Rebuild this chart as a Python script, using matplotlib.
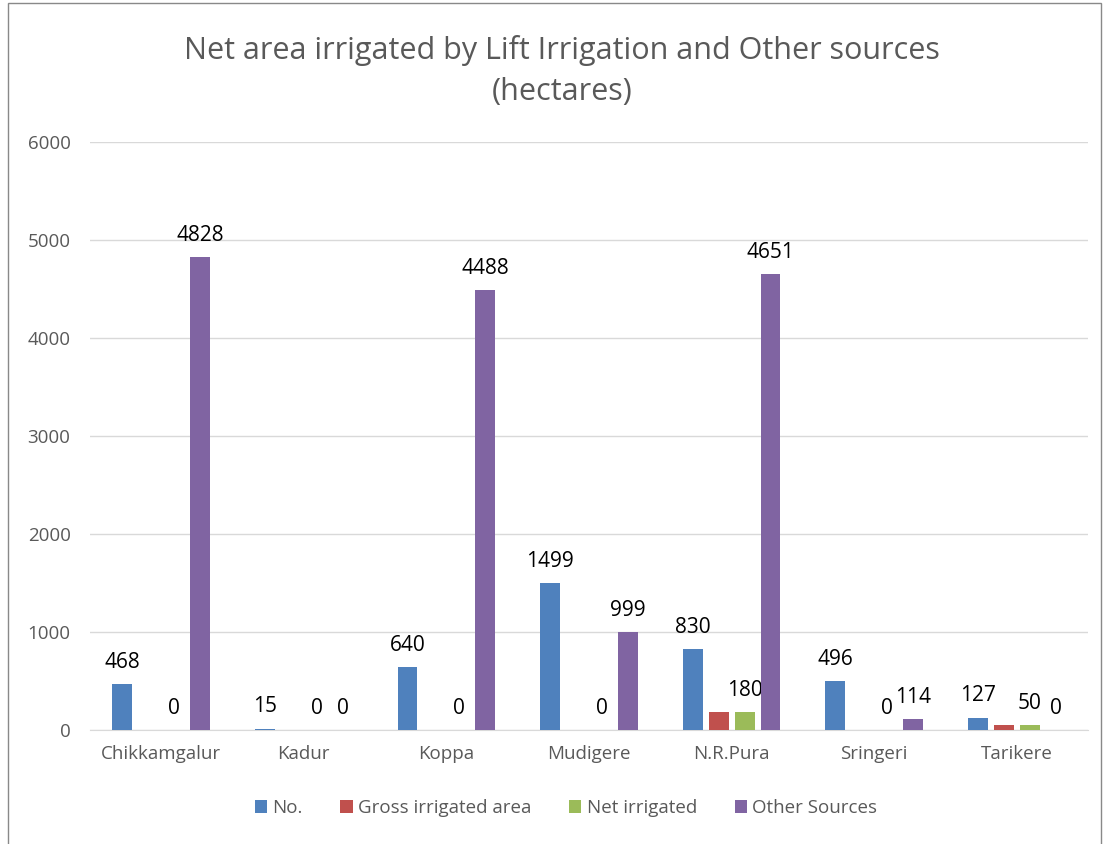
import matplotlib
matplotlib.use("Agg")
import matplotlib.pyplot as plt
import numpy as np
from matplotlib.patches import Rectangle

categories = ["Chikkamgalur", "Kadur", "Koppa", "Mudigere", "N.R.Pura", "Sringeri", "Tarikere"]
series_names = ["No.", "Gross irrigated area", "Net irrigated", "Other Sources"]
no_vals = [468, 15, 640, 1499, 830, 496, 127]
gross_vals = [0, 0, 0, 0, 180, 0, 50]
net_vals = [0, 0, 0, 0, 180, 0, 50]
other_vals = [4828, 0, 4488, 999, 4651, 114, 0]
show_labels = [True, False, True, True]
colors = ["#4F81BD", "#C0504D", "#9BBB59", "#8064A2"]
yticks = [0, 1000, 2000, 3000, 4000, 5000, 6000]

plt.rcParams['font.family'] = ['Open Sans', 'DejaVu Sans']

W, H = 1109, 844
fig = plt.figure(figsize=(W/100, H/100), dpi=100)
fig.patches.append(Rectangle((8/W, -0.1), (1101-8)/W, 1.1 - 3/H, transform=fig.transFigure,
                             fill=False, edgecolor="#898989", linewidth=1.0))

ax = fig.add_axes([90/W, 1-730/H, (1088-90)/W, (730-142)/H])
x = np.arange(len(categories))
step = 0.182
bw = 0.14
all_vals = [no_vals, gross_vals, net_vals, other_vals]
for i, (vals, name, col, lab) in enumerate(zip(all_vals, series_names, colors, show_labels)):
    pos = x + (i - 1.5) * step
    ax.bar(pos, vals, width=bw, color=col, label=name, zorder=3)
    if lab:
        for p, v in zip(pos, vals):
            ax.annotate(f"{v}", (p, v), xytext=(0, 8), textcoords="offset points",
                        ha="center", va="bottom", fontsize=15, color="black")

ax.set_xlim(-0.5, len(categories) - 0.5)
ax.set_ylim(0, 6000)
ax.set_yticks(yticks)
ax.set_xticks(x)
ax.set_xticklabels(categories)
ax.grid(axis="y", color="#D9D9D9", linewidth=1.0, zorder=0)
for s in ["top", "right", "left"]:
    ax.spines[s].set_visible(False)
ax.spines["bottom"].set_color("#D9D9D9")
ax.tick_params(axis="both", length=0, colors="#595959", labelsize=13.5)
ax.tick_params(axis="y", pad=14)
ax.tick_params(axis="x", pad=11)

fig.text(562/W, 1-50/H, "Net area irrigated by Lift Irrigation and Other sources",
         ha="center", va="center", fontsize=22, color="#595959")
fig.text(562/W, 1-92/H, "(hectares)", ha="center", va="center", fontsize=22, color="#595959")

fig.legend(loc="center", bbox_to_anchor=(566/W, 1-808/H), ncol=4, frameon=False,
           fontsize=13.5, handlelength=0.65, handleheight=0.65, handletextpad=0.3,
           columnspacing=2.0, labelcolor="#595959")

fig.savefig("out.png", dpi=100)
